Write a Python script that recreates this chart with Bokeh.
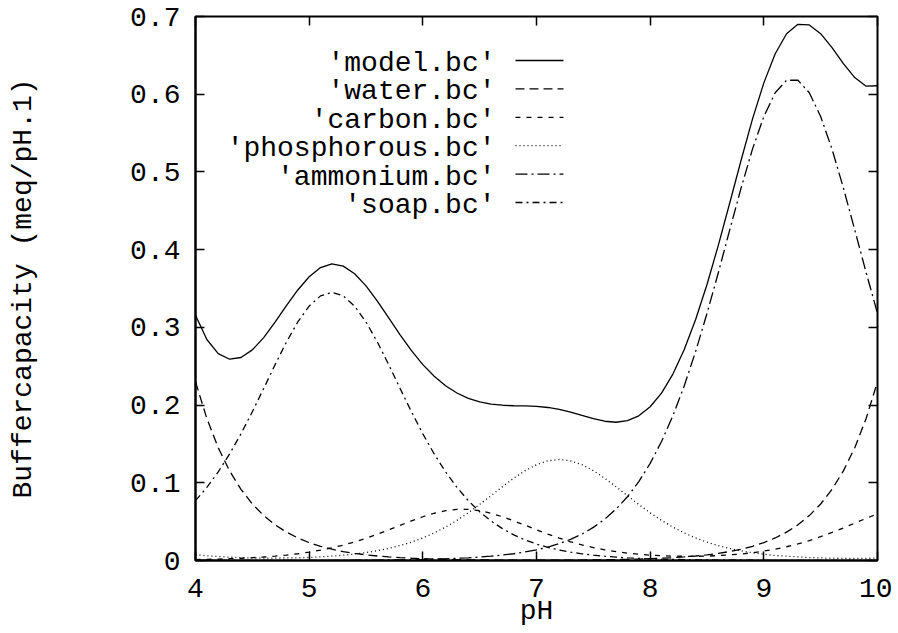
from bokeh.plotting import figure
from bokeh.models import Range1d, LinearAxis, FixedTicker, CustomJSTickFormatter, ColumnDataSource
from bokeh.embed import file_html
from bokeh.resources import INLINE
from bokeh.core.properties import value

# ---------------- data ----------------
ph = [4.0, 4.1, 4.2, 4.3, 4.4, 4.5, 4.6, 4.7, 4.8, 4.9,
      5.0, 5.1, 5.2, 5.3, 5.4, 5.5, 5.6, 5.7, 5.8, 5.9,
      6.0, 6.1, 6.2, 6.3, 6.4, 6.5, 6.6, 6.7, 6.8, 6.9,
      7.0, 7.1, 7.2, 7.3, 7.4, 7.5, 7.6, 7.7, 7.8, 7.9,
      8.0, 8.1, 8.2, 8.3, 8.4, 8.5, 8.6, 8.7, 8.8, 8.9,
      9.0, 9.1, 9.2, 9.3, 9.4, 9.5, 9.6, 9.7, 9.8, 9.9, 10.0]

model = [0.3156, 0.2844, 0.2661, 0.2590, 0.2612, 0.2710, 0.2868, 0.3066, 0.3279, 0.3481,
         0.3651, 0.3769, 0.3816, 0.3788, 0.3690, 0.3534, 0.3338, 0.3123, 0.2904, 0.2700,
         0.2520, 0.2370, 0.2249, 0.2155, 0.2086, 0.2041, 0.2011, 0.1998, 0.1991, 0.1990,
         0.1984, 0.1969, 0.1945, 0.1910, 0.1866, 0.1826, 0.1792, 0.1779, 0.1800, 0.1862,
         0.1978, 0.2154, 0.2399, 0.2715, 0.3101, 0.3551, 0.4058, 0.4600, 0.5150, 0.5679,
         0.6146, 0.6521, 0.6778, 0.6899, 0.6891, 0.6779, 0.6600, 0.6394, 0.6214, 0.6103, 0.6109]

water = [0.2300, 0.1827, 0.1451, 0.1153, 0.0916, 0.0727, 0.0578, 0.0459, 0.0365, 0.0290,
         0.0230, 0.0183, 0.0145, 0.0115, 0.0092, 0.0073, 0.0058, 0.0046, 0.0036, 0.0029,
         0.0023, 0.0018, 0.0015, 0.0012, 0.0009, 0.0008, 0.0006, 0.0006, 0.0005, 0.0005,
         0.0005, 0.0005, 0.0005, 0.0006, 0.0006, 0.0008, 0.0009, 0.0012, 0.0015, 0.0018,
         0.0023, 0.0029, 0.0036, 0.0046, 0.0058, 0.0073, 0.0092, 0.0115, 0.0145, 0.0183,
         0.0230, 0.0290, 0.0365, 0.0459, 0.0578, 0.0727, 0.0916, 0.1153, 0.1451, 0.1827, 0.2300]

carbon = [0.0012, 0.0015, 0.0018, 0.0023, 0.0029, 0.0036, 0.0045, 0.0057, 0.0070, 0.0087,
          0.0108, 0.0133, 0.0163, 0.0198, 0.0239, 0.0286, 0.0338, 0.0395, 0.0453, 0.0510,
          0.0563, 0.0608, 0.0641, 0.0658, 0.0658, 0.0641, 0.0608, 0.0563, 0.0510, 0.0454,
          0.0396, 0.0339, 0.0288, 0.0241, 0.0201, 0.0167, 0.0138, 0.0114, 0.0095, 0.0080,
          0.0069, 0.0061, 0.0056, 0.0054, 0.0054, 0.0056, 0.0063, 0.0072, 0.0084, 0.0100,
          0.0121, 0.0146, 0.0177, 0.0213, 0.0256, 0.0306, 0.0361, 0.0419, 0.0481, 0.0542, 0.0599]

phosphorous = [0.0074, 0.0061, 0.0051, 0.0043, 0.0037, 0.0033, 0.0031, 0.0031, 0.0033, 0.0035,
               0.0039, 0.0047, 0.0056, 0.0068, 0.0083, 0.0102, 0.0125, 0.0156, 0.0192, 0.0236,
               0.0290, 0.0355, 0.0430, 0.0516, 0.0614, 0.0721, 0.0834, 0.0949, 0.1059, 0.1156,
               0.1233, 0.1283, 0.1300, 0.1283, 0.1233, 0.1156, 0.1059, 0.0949, 0.0834, 0.0721,
               0.0614, 0.0516, 0.0430, 0.0355, 0.0290, 0.0236, 0.0191, 0.0155, 0.0124, 0.0100,
               0.0080, 0.0064, 0.0055, 0.0046, 0.0038, 0.0033, 0.0030, 0.0028, 0.0028, 0.0028, 0.0031]

ammonium = [0.0, 0.0, 0.0, 0.0, 0.0, 0.0, 0.0, 0.0, 0.0, 0.0,
            0.0001, 0.0001, 0.0002, 0.0002, 0.0003, 0.0004, 0.0006, 0.0007, 0.0009, 0.0011,
            0.0014, 0.0018, 0.0022, 0.0028, 0.0035, 0.0044, 0.0055, 0.0070, 0.0087, 0.0110,
            0.0138, 0.0173, 0.0217, 0.0272, 0.0340, 0.0426, 0.0531, 0.0661, 0.0821, 0.1015,
            0.1250, 0.1531, 0.1863, 0.2249, 0.2690, 0.3179, 0.3706, 0.4254, 0.4794, 0.5293,
            0.5713, 0.6019, 0.6180, 0.6180, 0.6019, 0.5713, 0.5293, 0.4794, 0.4254, 0.3706, 0.3179]

soap = [0.0770, 0.0941, 0.1141, 0.1371, 0.1630, 0.1914, 0.2214, 0.2519, 0.2811, 0.3069,
        0.3273, 0.3405, 0.3450, 0.3405, 0.3273, 0.3069, 0.2811, 0.2519, 0.2214, 0.1914,
        0.1630, 0.1371, 0.1141, 0.0941, 0.0770, 0.0627, 0.0508, 0.0410, 0.0330, 0.0265,
        0.0212, 0.0169, 0.0135, 0.0108, 0.0086, 0.0069, 0.0055, 0.0043, 0.0035, 0.0028,
        0.0022, 0.0017, 0.0014, 0.0011, 0.0009, 0.0007, 0.0006, 0.0004, 0.0003, 0.0003,
        0.0002, 0.0002, 0.0001, 0.0001, 0.0001, 0.0001, 0.0, 0.0, 0.0, 0.0, 0.0]

series_names = ["'model.bc'", "'water.bc'", "'carbon.bc'", "'phosphorous.bc'",
                "'ammonium.bc'", "'soap.bc'"]
x_ticks = [4, 5, 6, 7, 8, 9, 10]
y_ticks = [0.0, 0.1, 0.2, 0.3, 0.4, 0.5, 0.6, 0.7]

# ---------------- styling ----------------
FONT = "Liberation Mono"
FS = "28px"
X0, X1, Y0, Y1 = 4, 10, 0, 0.7
FW, FH = 682, 544

dashes = ["solid", "9 5", "5 6", "1 3", "12 4 2 4", "7 4 2 4"]
all_series = [model, water, carbon, phosphorous, ammonium, soap]

p = figure(frame_width=FW, frame_height=FH,
           x_range=Range1d(X0, X1), y_range=Range1d(Y0, Y1),
           output_backend="svg", toolbar_location=None,
           min_border_left=195, min_border_top=16, min_border_right=15, min_border_bottom=0)
p.xgrid.visible = False
p.ygrid.visible = False
p.outline_line_color = "black"
p.outline_line_width = 2
p.background_fill_color = "white"
p.border_fill_color = "white"

for ax in (p.xaxis[0], p.yaxis[0]):
    ax.major_label_text_font = FONT
    ax.major_label_text_font_size = FS
    ax.major_label_text_color = "black"
    ax.axis_label_text_font = FONT
    ax.axis_label_text_font_size = FS
    ax.axis_label_text_font_style = "normal"
    ax.axis_label_text_color = "black"
    ax.major_tick_in = 9
    ax.major_tick_out = 0
    ax.major_tick_line_color = "black"
    ax.major_tick_line_width = 1.5
    ax.minor_tick_line_color = None
    ax.axis_line_color = "black"
    ax.axis_line_width = 2

p.xaxis.ticker = FixedTicker(ticks=x_ticks)
p.yaxis.ticker = FixedTicker(ticks=y_ticks)
p.yaxis.major_label_overrides = {0: "0"}
p.xaxis.axis_label = "pH"
p.yaxis.axis_label = "Buffercapacity (meq/pH.1)"
p.xaxis.major_label_standoff = 18
p.xaxis.axis_label_standoff = -4
p.yaxis.major_label_standoff = 15
p.yaxis.axis_label_standoff = 88

blank = CustomJSTickFormatter(code="return ''")
top = LinearAxis(ticker=FixedTicker(ticks=x_ticks), formatter=blank,
                 major_label_text_font_size="0px", major_label_standoff=0,
                 major_tick_in=9, major_tick_out=0, major_tick_line_width=1.5,
                 minor_tick_line_color=None, axis_line_color=None)
right = LinearAxis(ticker=FixedTicker(ticks=y_ticks), formatter=blank,
                   major_label_text_font_size="0px", major_label_standoff=0,
                   major_tick_in=9, major_tick_out=0, major_tick_line_width=1.5,
                   minor_tick_line_color=None, axis_line_color=None)
p.add_layout(top, "above")
p.add_layout(right, "right")

# curves
for ys, dash in zip(all_series, dashes):
    p.line(ph, ys, line_color="black", line_width=1.3, line_dash=dash)

# gnuplot-style key: right-aligned text, sample line to the right
def px_x(px):
    return X0 + (px / FW) * (X1 - X0)

def px_y(py):
    return Y1 - (py / FH) * (Y1 - Y0)

text_right = 300     # frame px from left
samp_x0, samp_x1 = 320, 368
row0, row_step = 47, 28.4
rows_y = [px_y(row0 + i * row_step) for i in range(len(series_names))]
samp_dy = px_y(0) - px_y(3)

src = ColumnDataSource(dict(x=[px_x(text_right)] * len(series_names), y=rows_y, t=series_names))
p.text(x="x", y="y", text="t", source=src, text_font=value(FONT), text_font_size=value(FS),
       text_align="right", text_baseline="middle", text_color="black")
for yv, dash in zip(rows_y, dashes):
    p.line([px_x(samp_x0), px_x(samp_x1)], [yv + samp_dy, yv + samp_dy],
           line_color="black", line_width=1.3, line_dash=dash)

open("out.html", "w").write(file_html(p, INLINE))
